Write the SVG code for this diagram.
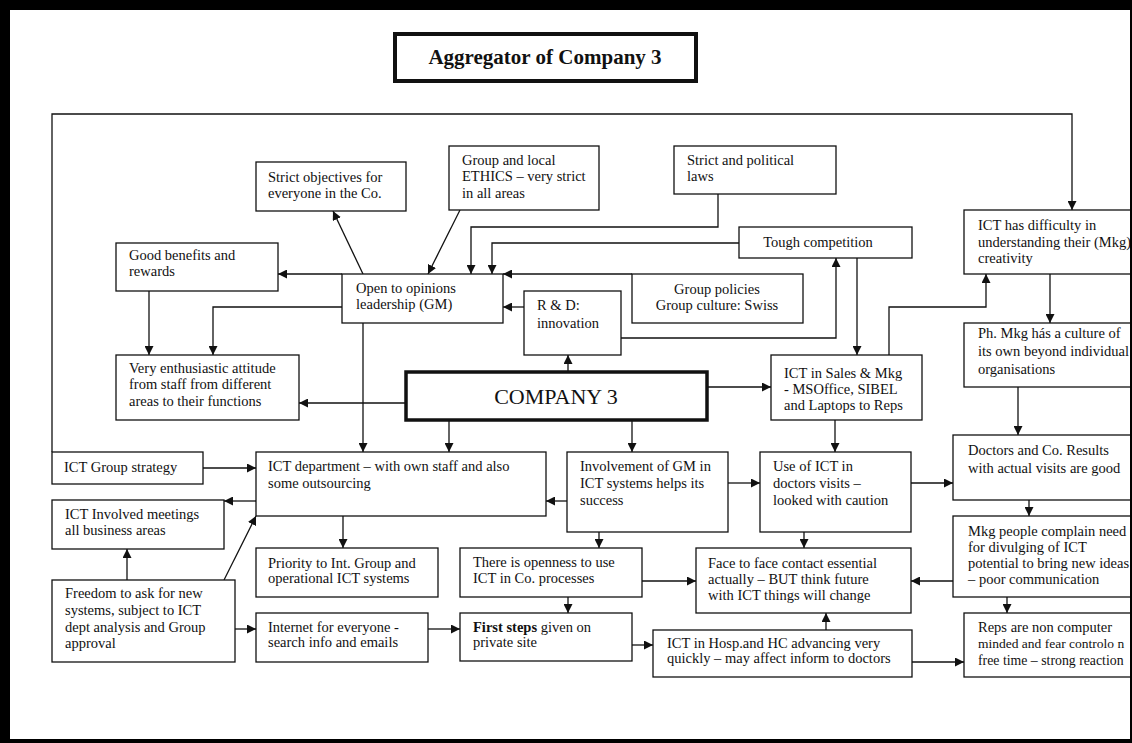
<svg xmlns="http://www.w3.org/2000/svg" width="1132" height="743" viewBox="0 0 1132 743">
  <style>
    .box { fill: #fff; stroke: #111; stroke-width: 1.3; }
    .thick { fill: #fff; stroke: #111; stroke-width: 3.5; }
    .t { font-family: "Liberation Serif", "Times New Roman", serif; font-size: 14.5px; fill: #111; }
    .c { text-anchor: middle; }
    .b { font-weight: bold; }
    .ln { fill: none; stroke: #111; stroke-width: 1.3; }
    .ar { marker-end: url(#head); }
  </style>
  <defs>
    <marker id="head" viewBox="0 0 10 10" refX="10" refY="5" markerWidth="9" markerHeight="9" markerUnits="userSpaceOnUse" orient="auto">
      <path d="M0,0 L10,5 L0,10 Z" fill="#111"/>
    </marker>
  </defs>

  <rect width="1132" height="743" fill="#fff"/>

  <!-- title -->
  <g id="title">
    <rect class="thick" x="395" y="34" width="301" height="47" style="stroke-width:4"/>
    <text class="t b c" x="545" y="64" style="font-size:21px">Aggregator of Company 3</text>
  </g>

  <!-- connectors -->
  <g id="connectors">
    <path class="ln ar" d="M52,452 V114 H1072 V210"/>
    <path class="ln ar" d="M363,274 L333,211"/>
    <path class="ln ar" d="M460,210 L428,274"/>
    <path class="ln ar" d="M718,194 V227 H471 V274"/>
    <path class="ln ar" d="M739,243 H492 V274"/>
    <path class="ln ar" d="M632,274 H503"/>
    <path class="ln ar" d="M524,307 H503"/>
    <path class="ln ar" d="M621,338 H836 V258"/>
    <path class="ln ar" d="M857,258 V355"/>
    <path class="ln ar" d="M889,355 V307 H986 V274"/>
    <path class="ln ar" d="M1050,274 V323"/>
    <path class="ln ar" d="M1018,387 V435"/>
    <path class="ln ar" d="M1029,500 V516"/>
    <path class="ln ar" d="M953,581 H911"/>
    <path class="ln ar" d="M1007,597 V613"/>
    <path class="ln ar" d="M912,662 H964"/>
    <path class="ln ar" d="M826,630 V613"/>
    <path class="ln ar" d="M804,532 V548"/>
    <path class="ln ar" d="M911,483 H953"/>
    <path class="ln ar" d="M835,420 V452"/>
    <path class="ln ar" d="M707,387 H771"/>
    <path class="ln ar" d="M728,483 H760"/>
    <path class="ln ar" d="M567,501 H546"/>
    <path class="ln ar" d="M599,532 V548"/>
    <path class="ln ar" d="M642,581 H696"/>
    <path class="ln ar" d="M568,597 V613"/>
    <path class="ln ar" d="M632,645 H653"/>
    <path class="ln ar" d="M428,629 H460"/>
    <path class="ln ar" d="M235,629 H256"/>
    <path class="ln ar" d="M127,580 V549"/>
    <path class="ln ar" d="M224,580 L256,516"/>
    <path class="ln ar" d="M256,501 H224"/>
    <path class="ln ar" d="M203,468 H256"/>
    <path class="ln ar" d="M343,516 V548"/>
    <path class="ln ar" d="M363,323 V452"/>
    <path class="ln ar" d="M449,420 V452"/>
    <path class="ln ar" d="M568,372 V355"/>
    <path class="ln ar" d="M406,403 H299"/>
    <path class="ln ar" d="M632,420 V452"/>
    <path class="ln ar" d="M342,274 H278"/>
    <path class="ln ar" d="M149,291 V355"/>
    <path class="ln ar" d="M342,307 H213 V355"/>
  </g>

  <!-- nodes -->
  <g id="strict-objectives">
    <rect class="box" x="256" y="162" width="150" height="49"/>
    <text class="t" x="268" y="182">Strict objectives for</text>
    <text class="t" x="268" y="198">everyone in the Co.</text>
  </g>
  <g id="ethics">
    <rect class="box" x="449" y="146" width="150" height="64"/>
    <text class="t" x="462" y="165">Group and local</text>
    <text class="t" x="462" y="181">ETHICS – very strict</text>
    <text class="t" x="462" y="198">in all areas</text>
  </g>
  <g id="laws">
    <rect class="box" x="674" y="146" width="162" height="48"/>
    <text class="t" x="687" y="165">Strict and political</text>
    <text class="t" x="687" y="181">laws</text>
  </g>
  <g id="tough-competition">
    <rect class="box" x="739" y="227" width="173" height="31"/>
    <text class="t c" x="818" y="247">Tough competition</text>
  </g>
  <g id="good-benefits">
    <rect class="box" x="116" y="243" width="162" height="48"/>
    <text class="t" x="129" y="260">Good benefits and</text>
    <text class="t" x="129" y="276">rewards</text>
  </g>
  <g id="open-leadership">
    <rect class="box" x="342" y="274" width="161" height="49"/>
    <text class="t" x="356" y="293">Open to opinions</text>
    <text class="t" x="356" y="309">leadership (GM)</text>
  </g>
  <g id="r-and-d">
    <rect class="box" x="524" y="291" width="97" height="64"/>
    <text class="t" x="537" y="310">R &amp; D:</text>
    <text class="t" x="537" y="328">innovation</text>
  </g>
  <g id="group-policies">
    <rect class="box" x="632" y="274" width="171" height="49"/>
    <text class="t c" x="717" y="294">Group policies</text>
    <text class="t c" x="717" y="310">Group culture: Swiss</text>
  </g>
  <g id="ict-difficulty">
    <rect class="box" x="964" y="210" width="180" height="64"/>
    <text class="t" x="978" y="230">ICT has difficulty in</text>
    <text class="t" x="978" y="247">understanding their  (Mkg)</text>
    <text class="t" x="978" y="263">creativity</text>
  </g>
  <g id="ph-mkg">
    <rect class="box" x="964" y="323" width="180" height="64"/>
    <text class="t" x="978" y="338">Ph. Mkg hás a culture of</text>
    <text class="t" x="978" y="356">its own beyond individual</text>
    <text class="t" x="978" y="374">organisations</text>
  </g>
  <g id="very-enthusiastic">
    <rect class="box" x="116" y="355" width="183" height="65"/>
    <text class="t" x="129" y="373">Very enthusiastic attitude</text>
    <text class="t" x="129" y="389">from staff from different</text>
    <text class="t" x="129" y="406">areas to their functions</text>
  </g>
  <g id="company-3">
    <rect class="thick" x="406" y="372" width="301" height="48"/>
    <text class="t c" x="556" y="404" style="font-size:22px">COMPANY 3</text>
  </g>
  <g id="ict-sales">
    <rect class="box" x="771" y="355" width="151" height="65"/>
    <text class="t" x="784" y="378">ICT in Sales &amp; Mkg</text>
    <text class="t" x="784" y="394">- MSOffice, SIBEL</text>
    <text class="t" x="784" y="410">and Laptops to Reps</text>
  </g>
  <g id="ict-group-strategy">
    <rect class="box" x="52" y="452" width="151" height="32"/>
    <text class="t" x="64" y="472">ICT Group strategy</text>
  </g>
  <g id="ict-department">
    <rect class="box" x="256" y="452" width="290" height="64"/>
    <text class="t" x="268" y="471">ICT department – with own staff and also</text>
    <text class="t" x="268" y="488">some outsourcing</text>
  </g>
  <g id="gm-involvement">
    <rect class="box" x="567" y="452" width="161" height="80"/>
    <text class="t" x="580" y="471">Involvement of GM in</text>
    <text class="t" x="580" y="488">ICT  systems helps its</text>
    <text class="t" x="580" y="505">success</text>
  </g>
  <g id="ict-doctors-visits">
    <rect class="box" x="760" y="452" width="151" height="80"/>
    <text class="t" x="773" y="471">Use of ICT in</text>
    <text class="t" x="773" y="488">doctors visits –</text>
    <text class="t" x="773" y="505">looked with caution</text>
  </g>
  <g id="doctors-results">
    <rect class="box" x="953" y="435" width="190" height="65"/>
    <text class="t" x="968" y="455">Doctors and Co. Results</text>
    <text class="t" x="968" y="473">with actual visits are good</text>
  </g>
  <g id="ict-involved-meetings">
    <rect class="box" x="52" y="500" width="172" height="49"/>
    <text class="t" x="65" y="519">ICT Involved  meetings</text>
    <text class="t" x="65" y="535">all business areas</text>
  </g>
  <g id="mkg-complain">
    <rect class="box" x="953" y="516" width="190" height="81"/>
    <text class="t" x="968" y="536">Mkg people complain need</text>
    <text class="t" x="968" y="552">for divulging of ICT</text>
    <text class="t" x="968" y="568">potential to bring new ideas</text>
    <text class="t" x="968" y="584">– poor communication</text>
  </g>
  <g id="priority">
    <rect class="box" x="256" y="548" width="182" height="49"/>
    <text class="t" x="268" y="568">Priority to Int. Group and</text>
    <text class="t" x="268" y="583">operational ICT systems</text>
  </g>
  <g id="openness">
    <rect class="box" x="460" y="548" width="182" height="49"/>
    <text class="t" x="473" y="567">There is openness to use</text>
    <text class="t" x="473" y="583">ICT  in Co. processes</text>
  </g>
  <g id="face-to-face">
    <rect class="box" x="696" y="548" width="215" height="65"/>
    <text class="t" x="708" y="568">Face to face contact essential</text>
    <text class="t" x="708" y="584">actually – BUT think future</text>
    <text class="t" x="708" y="600">with ICT things will change</text>
  </g>
  <g id="freedom">
    <rect class="box" x="52" y="580" width="183" height="82"/>
    <text class="t" x="65" y="598">Freedom to ask for new</text>
    <text class="t" x="65" y="615">systems, subject to ICT</text>
    <text class="t" x="65" y="632">dept analysis and Group</text>
    <text class="t" x="65" y="648">approval</text>
  </g>
  <g id="internet">
    <rect class="box" x="256" y="613" width="172" height="49"/>
    <text class="t" x="268" y="632">Internet for everyone -</text>
    <text class="t" x="268" y="647">search info and emails</text>
  </g>
  <g id="first-steps">
    <rect class="box" x="460" y="613" width="172" height="48"/>
    <text class="t" x="473" y="632"><tspan class="b">First steps</tspan> given on</text>
    <text class="t" x="473" y="647">private site</text>
  </g>
  <g id="hosp-hc">
    <rect class="box" x="653" y="630" width="259" height="47"/>
    <text class="t" x="667" y="648">ICT  in Hosp.and HC advancing very</text>
    <text class="t" x="667" y="663">quickly – may affect inform to doctors</text>
  </g>
  <g id="reps">
    <rect class="box" x="964" y="613" width="180" height="64"/>
    <text class="t" x="978" y="632">Reps are non computer</text>
    <text class="t" x="978" y="648" style="font-size:13.5px">minded and fear controlo n</text>
    <text class="t" x="978" y="665" style="font-size:13.8px">free time – strong reaction</text>
  </g>

  <!-- page frame -->
  <path d="M0,0 H1132 V743 H0 Z M10,10 V739 H1130 V10 Z" fill="#000" fill-rule="evenodd"/>
</svg>
